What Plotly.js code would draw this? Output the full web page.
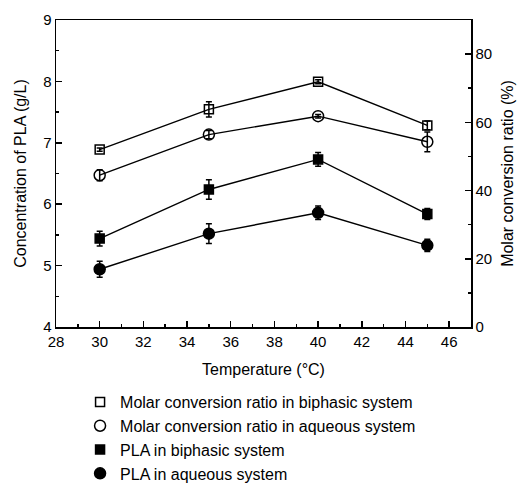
<!DOCTYPE html>
<html>
<head>
<meta charset="utf-8">
<script src="https://cdn.plot.ly/plotly-3.0.1.min.js"></script>
<style>html,body{margin:0;padding:0;background:#fff;}#chart{width:519px;height:484px;}</style>
</head>
<body>
<div id="chart"></div>
<script>
// Temperature (°C)
const temperature = [30, 35, 40, 45];

// Molar conversion ratio (%), right axis
const molarBiphasic = [52.0, 63.8, 71.9, 59.1];
const molarBiphasicErr = [0.5, 2.2, 0.6, 1.3];
const molarAqueous = [44.5, 56.4, 61.8, 54.3];
const molarAqueousErr = [1.6, 1.2, 0.5, 2.9];

// Concentration of PLA (g/L), left axis
const plaBiphasic = [5.44, 6.24, 6.73, 5.84];
const plaBiphasicErr = [0.12, 0.16, 0.11, 0.09];
const plaAqueous = [4.94, 5.52, 5.86, 5.33];
const plaAqueousErr = [0.13, 0.16, 0.11, 0.10];

const series = [
  {name: 'Molar conversion ratio in biphasic system', y: molarBiphasic, err: molarBiphasicErr, axis: 'y2', symbol: 'square-open', size: 9},
  {name: 'Molar conversion ratio in aqueous system', y: molarAqueous, err: molarAqueousErr, axis: 'y2', symbol: 'circle-open', size: 11},
  {name: 'PLA in biphasic system', y: plaBiphasic, err: plaBiphasicErr, axis: 'y', symbol: 'square', size: 9},
  {name: 'PLA in aqueous system', y: plaAqueous, err: plaAqueousErr, axis: 'y', symbol: 'circle', size: 11}
];

const traces = [];
series.forEach(s => {
  // connecting line
  traces.push({
    x: temperature, y: s.y, yaxis: s.axis, mode: 'lines',
    line: {color: '#000', width: 1.4}, showlegend: false, hoverinfo: 'skip'
  });
  // markers with error bars
  traces.push({
    x: temperature, y: s.y, yaxis: s.axis, mode: 'markers', name: s.name,
    marker: {symbol: s.symbol, size: s.size, color: '#000',
             line: {color: '#000', width: 1.5}},
    error_y: {type: 'data', array: s.err, visible: true, color: '#000', thickness: 1.5, width: 3}
  });
});

const fontFamily = 'Liberation Sans, Arial, sans-serif';
const axisFont = {family: fontFamily, size: 15, color: '#000'};
const titleFont = {family: fontFamily, size: 16, color: '#000'};

const layout = {
  width: 519, height: 484,
  margin: {l: 56, r: 48, t: 20, b: 157, autoexpand: false},
  paper_bgcolor: '#fff', plot_bgcolor: 'rgba(0,0,0,0)',
  font: axisFont,
  showlegend: true,
  legend: {
    x: 0.058, y: -0.189, xanchor: 'left', yanchor: 'top',
    font: {family: fontFamily, size: 16, color: '#000'},
    bgcolor: 'rgba(0,0,0,0)', tracegroupgap: 0
  },
  xaxis: {
    range: [28, 47], dtick: 2, tick0: 28, automargin: false,
    ticks: 'inside', ticklen: 6, tickwidth: 1.5, tickcolor: '#000',
    minor: {dtick: 1, ticks: 'inside', ticklen: 3, tickwidth: 1.5, tickcolor: '#000'},
    showline: true, linecolor: '#000', linewidth: 1.5, mirror: true,
    showgrid: false, zeroline: false,
    tickfont: axisFont,
    title: {text: 'Temperature (°C)', font: titleFont, standoff: 15}
  },
  yaxis: {
    range: [4, 9], dtick: 1, automargin: false,
    ticks: 'inside', ticklen: 6, tickwidth: 1.5, tickcolor: '#000',
    minor: {dtick: 0.5, ticks: 'inside', ticklen: 3, tickwidth: 1.5, tickcolor: '#000'},
    showline: true, linecolor: '#000', linewidth: 1.5,
    showgrid: false, zeroline: false,
    tickfont: axisFont,
    title: {text: 'Concentration of PLA (g/L)', font: titleFont, standoff: 12}
  },
  yaxis2: {
    range: [0, 90], dtick: 20, overlaying: 'y', side: 'right', automargin: false,
    ticks: 'inside', ticklen: 6, tickwidth: 1.5, tickcolor: '#000',
    minor: {dtick: 10, ticks: 'inside', ticklen: 3, tickwidth: 1.5, tickcolor: '#000'},
    showline: true, linecolor: '#000', linewidth: 1.5,
    showgrid: false, zeroline: false,
    tickfont: axisFont,
    title: {text: 'Molar conversion ratio (%)', font: titleFont, standoff: 10}
  }
};

Plotly.newPlot('chart', traces, layout, {displayModeBar: false, staticPlot: true});
</script>
</body>
</html>
